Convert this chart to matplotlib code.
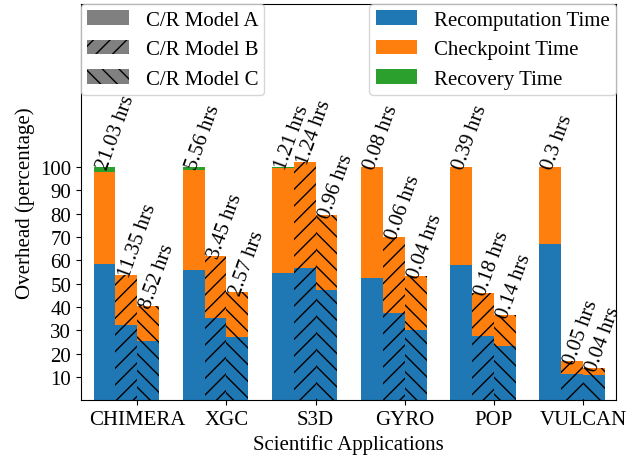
import matplotlib
matplotlib.use("Agg")
import matplotlib.pyplot as plt
import matplotlib.patches as mpatches
import numpy as np

plt.rcParams['font.family'] = ['Liberation Serif', 'DejaVu Serif']
plt.rcParams['font.size'] = 15

apps = ["CHIMERA", "XGC", "S3D", "GYRO", "POP", "VULCAN"]
models = ["C/R Model A", "C/R Model B", "C/R Model C"]
hatches = ["", "//", "\\\\"]

recomp = {
    "A": [58.6, 55.9, 54.4, 52.3, 58.0, 66.9],
    "B": [32.1, 35.1, 56.9, 37.2, 27.6, 11.3],
    "C": [25.2, 27.1, 47.3, 30.0, 23.3, 10.6],
}
ckpt = {
    "A": [39.3, 42.8, 45.3, 47.7, 42.0, 33.1],
    "B": [21.6, 26.8, 45.4, 33.0, 18.3, 5.4],
    "C": [15.2, 19.1, 32.0, 23.3, 13.1, 3.0],
}
recov = {
    "A": [2.1, 1.3, 0.3, 0.0, 0.0, 0.0],
    "B": [0.0, 0.0, 0.0, 0.0, 0.0, 0.0],
    "C": [0.0, 0.0, 0.0, 0.0, 0.0, 0.0],
}
hours = {
    "A": ["21.03", "5.56", "1.21", "0.08", "0.39", "0.3"],
    "B": ["11.35", "3.45", "1.24", "0.06", "0.18", "0.05"],
    "C": ["8.52", "2.57", "0.96", "0.04", "0.14", "0.04"],
}

colors = ["#1f77b4", "#ff7f0e", "#2ca02c"]

fig = plt.figure(figsize=(6.41, 4.60), dpi=100)
ax = fig.add_axes([0.1264, 0.128, 0.961 - 0.1264, 0.989 - 0.128])

x = np.arange(len(apps))
w = 0.245
offsets = [-2 * w, -w, 0]
for key, off, h in zip(["A", "B", "C"], offsets, hatches):
    r = np.array(recomp[key])
    c = np.array(ckpt[key])
    v = np.array(recov[key])
    ax.bar(x + off, r, w, align='edge', color=colors[0], hatch=h, linewidth=0)
    ax.bar(x + off, c, w, bottom=r, align='edge', color=colors[1], hatch=h, linewidth=0)
    ax.bar(x + off, v, w, bottom=r + c, align='edge', color=colors[2], hatch=h, linewidth=0)
    tops = r + c + v
    for xi, t, lab in zip(x + off, tops, hours[key]):
        ax.text(xi, t, f"{lab} hrs", rotation=70)

ax.set_xticks(x)
ax.set_xticklabels(apps)
ax.set_yticks(np.arange(10, 101, 10))
ax.set_ylim(0, 170)
ax.set_xlim(-0.63, 5.37)
ax.set_xlabel("Scientific Applications")
ax.set_ylabel("Overhead (percentage)")

model_handles = [mpatches.Patch(facecolor='gray', hatch=h, label=m) for m, h in zip(models, hatches)]
leg1 = ax.legend(handles=model_handles, loc='upper left', borderaxespad=0.0,
                 borderpad=0.3, labelspacing=0.48)
ax.add_artist(leg1)
time_handles = [mpatches.Patch(facecolor=c, label=l) for c, l in
                zip(colors, ["Recomputation Time", "Checkpoint Time", "Recovery Time"])]
ax.legend(handles=time_handles, loc='upper right', borderaxespad=0.0,
          borderpad=0.3, labelspacing=0.48)

fig.savefig("out.png", dpi=100)
